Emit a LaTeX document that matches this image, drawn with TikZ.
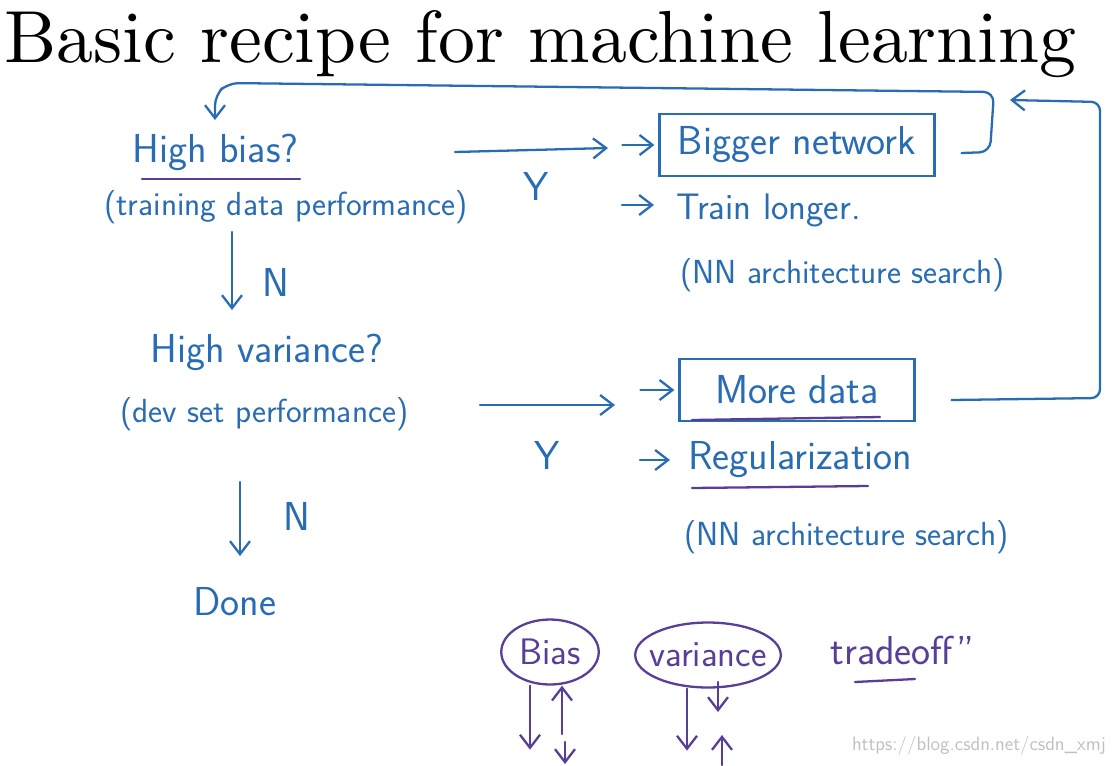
\documentclass[tikz,border=0pt]{standalone}
\usepackage{fontspec}
\usepackage{xcolor}
\usepackage{tikz}
\usetikzlibrary{arrows.meta,positioning,calc,shapes.geometric}
\newfontfamily\titlefont{lmroman10-regular.otf}
\definecolor{inkblue}{RGB}{40,108,180}
\definecolor{inkpurple}{RGB}{88,62,150}

\begin{document}
\begin{tikzpicture}[x=0.02cm,y=-0.02cm,
  ink/.style={inkblue,line width=1.3pt,line cap=round,line join=round},
  rx/.style={ink,-{Straight Barb[length=2.6mm,width=4mm]}},
  txt/.style={inkblue,font=\sffamily\fontsize{23}{26}\selectfont,anchor=west,inner sep=0pt},
  sub/.style={txt,font=\sffamily\fontsize{19}{22}\selectfont},
  lab/.style={inkblue,font=\sffamily\fontsize{23}{24}\selectfont,inner sep=0pt},
  optbox/.style={draw=inkpurple,line width=1.3pt,inkblue,minimum height=1.25cm,
    font=\sffamily\fontsize{23}{26}\selectfont},
  blob/.style={ellipse,draw=inkpurple,line width=1.3pt,text=inkpurple,inner sep=1pt,
    font=\sffamily\fontsize{21}{24}\selectfont},
  uline/.style={inkpurple,line width=1.3pt,line cap=round}]
  \useasboundingbox[fill=white] (0,0) rectangle (1116,765);
  \node[anchor=base west,inner sep=0pt,font=\titlefont\fontsize{42}{44}\selectfont] (title) at (4,62) {Basic recipe for machine learning};

  % left column: the two questions
  \node[txt] (hb) at (132,152) {High bias?};
  \node[sub] (tdp) at (104,207) {(training data performance)};
  \node[txt] (hv) at (150,352) {High variance?};
  \node[sub] (dsp) at (120,414) {(dev set performance)};
  \node[txt] (done) at (193,602) {Done};
  \draw[uline] (142,179) -- (300,179);

  \coordinate (n1a) at (232,232);
  \coordinate (n1b) at (232,310);
  \coordinate (n2a) at (240,482);
  \coordinate (n2b) at (240,556);
  \draw[rx] (n1a) -- (n1b);
  \draw[rx] (n2a) -- (n2b);
  \node[lab] (no1) at (276,282) {N};
  \node[lab] (no2) at (297,516) {N};

  % right column: the fixes
  \node[optbox,minimum width=5.5cm] (bn) at (797,145) {Bigger network};
  \node[txt,font=\sffamily\fontsize{21}{24}\selectfont] (tl) at (676,210) {Train longer.};
  \node[sub] (nas1) at (680,275) {(NN architecture search)};
  \node[optbox,minimum width=4.7cm] (md) at (797,390) {More data};
  \node[txt] (reg) at (688,460) {Regularization};
  \node[sub] (nas2) at (684,537) {(NN architecture search)};
  \draw[uline] (692,420) -- (880,417);
  \draw[uline] (692,488) -- (868,486);

  \coordinate (y1a) at (455,152);
  \coordinate (y1b) at (608,148);
  \coordinate (y2a) at (480,405);
  \coordinate (y2b) at (615,405);
  \draw[rx] (y1a) -- (y1b);
  \draw[rx] (y2a) -- (y2b);
  \node[lab] (yes1) at (536,186) {Y};
  \node[lab] (yes2) at (547,455) {Y};

  \draw[rx] ($(bn.west)+(-36,0)$) -- ($(bn.west)+(-4,0)$);
  \draw[rx] ($(tl.west)+(-54,-5)$) -- ($(tl.west)+(-22,-5)$);
  \draw[rx] ($(md.west)+(-38,0)$) -- ($(md.west)+(-4,0)$);
  \draw[rx] ($(reg.west)+(-48,0)$) -- ($(reg.west)+(-18,0)$);

  % loops back to the top
  \coordinate (topin) at (215,120);
  \draw[rx,rounded corners=6pt] ($(bn.east)+(26,8)$) -- (990,152) -- (994,92) -- (228,83) -- (215,95) -- (topin);
  \coordinate (sidein) at (1010,100);
  \draw[rx,rounded corners=5pt] ($(md.east)+(36,10)$) -- (1100,398) -- (1100,102) -- (sidein);

  % bias / variance tradeoff
  \node[blob,minimum width=1.95cm,minimum height=1.3cm] (bias) at (550,652) {Bias};
  \node[blob,inner xsep=-4pt,minimum width=2.85cm,minimum height=1.3cm] (var) at (708,655) {variance};
  \node[txt,text=inkpurple] (tr) at (830,650) {tradeoff''};
  \draw[uline] (855,682) -- (915,679);

  \draw[rx,inkpurple] ($(bias.south)+(-20,0)$) -- ++(0,64);
  \draw[rx,inkpurple] (562,734) -- ($(bias.south)+(12,0)$);
  \draw[rx,inkpurple] (565,742) -- (565,764);
  \draw[rx,inkpurple] ($(var.south)+(-21,0)$) -- ++(0,62);
  \draw[rx,inkpurple] (718,682) -- (718,712);
  \draw[rx,inkpurple] (722,765) -- (722,735);

  \node[anchor=east,text=black!25,font=\sffamily\fontsize{11}{12}\selectfont] (wm) at (1112,746) {https://blog.csdn.net/csdn\_xmj};
\end{tikzpicture}
\end{document}
